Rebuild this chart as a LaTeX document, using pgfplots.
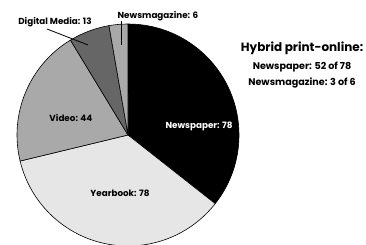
\documentclass[border=0pt]{standalone}
\usepackage{pgfplots}
\pgfplotsset{compat=1.18}
\usepackage{fontspec}
\setmainfont{Poppins}
\definecolor{cYear}{HTML}{E6E6E6}
\definecolor{cVideo}{HTML}{A9A9A9}
\definecolor{cDig}{HTML}{666666}
\definecolor{cMag}{HTML}{A9A9A9}
% values
\def\vNews{78}\def\vYear{78}\def\vVideo{44}\def\vDig{13}\def\vMag{6}
\pgfmathsetmacro\vTot{\vNews+\vYear+\vVideo+\vDig+\vMag}
\pgfmathsetmacro\aA{90}
\pgfmathsetmacro\aB{\aA-360*(\vNews/\vTot)}
\pgfmathsetmacro\aC{\aB-360*(\vYear/\vTot)}
\pgfmathsetmacro\aD{\aC-360*(\vVideo/\vTot)}
\pgfmathsetmacro\aE{\aD-360*(\vDig/\vTot)}
\pgfmathsetmacro\aF{\aE-360*(\vMag/\vTot)}
\newcommand\pieWedge[3]{%
  \filldraw[fill=#1,draw=black,line width=0.6pt,line join=round] (axis cs:0,0) -- (axis cs:{cos(#2)},{sin(#2)}) arc[start angle=#2,end angle=#3,radius=111pt] -- cycle;}
\begin{document}
\begin{tikzpicture}
\begin{axis}[x=111pt,y=111pt,xmin=-1.1532,xmax=2.1441,ymin=-0.982,ymax=1.2162,hide axis,clip=true]
\clip (rel axis cs:0,0) rectangle (rel axis cs:1,1);
\pieWedge{black}{\aA}{\aB}
\pieWedge{cYear}{\aB}{\aC}
\pieWedge{cVideo}{\aC}{\aD}
\pieWedge{cDig}{\aD}{\aE}
\pieWedge{cMag}{\aE}{\aF}
\draw[line width=0.8pt] (axis cs:-0.730,0.955) -- (axis cs:-0.360,0.811);
\draw[line width=0.8pt] (axis cs:-0.063,1.027) -- (axis cs:-0.063,0.811);
\begin{scope}[every node/.style={font=\fontsize{8.8}{10}\selectfont\bfseries,inner sep=0pt}]
\node[white] at (axis cs:0.640,0.081) {Newspaper: 78};
\node at (axis cs:-0.072,-0.523) {Yearbook: 78};
\node at (axis cs:-0.514,0.153) {Video: 44};
\node at (axis cs:-0.658,1.018) {Digital Media: 13};
\node at (axis cs:0.270,1.072) {Newsmagazine: 6};
\end{scope}
\node[font=\fontsize{12}{13}\selectfont\bfseries,inner sep=0pt] at (axis cs:1.568,0.784) {Hybrid print-online:};
\node[font=\fontsize{9.6}{10}\selectfont\bfseries,inner sep=0pt] at (axis cs:1.568,0.613) {Newspaper: 52 of 78};
\node[font=\fontsize{9.6}{10}\selectfont\bfseries,inner sep=0pt] at (axis cs:1.568,0.468) {Newsmagazine: 3 of 6};
\end{axis}
\end{tikzpicture}
\end{document}
